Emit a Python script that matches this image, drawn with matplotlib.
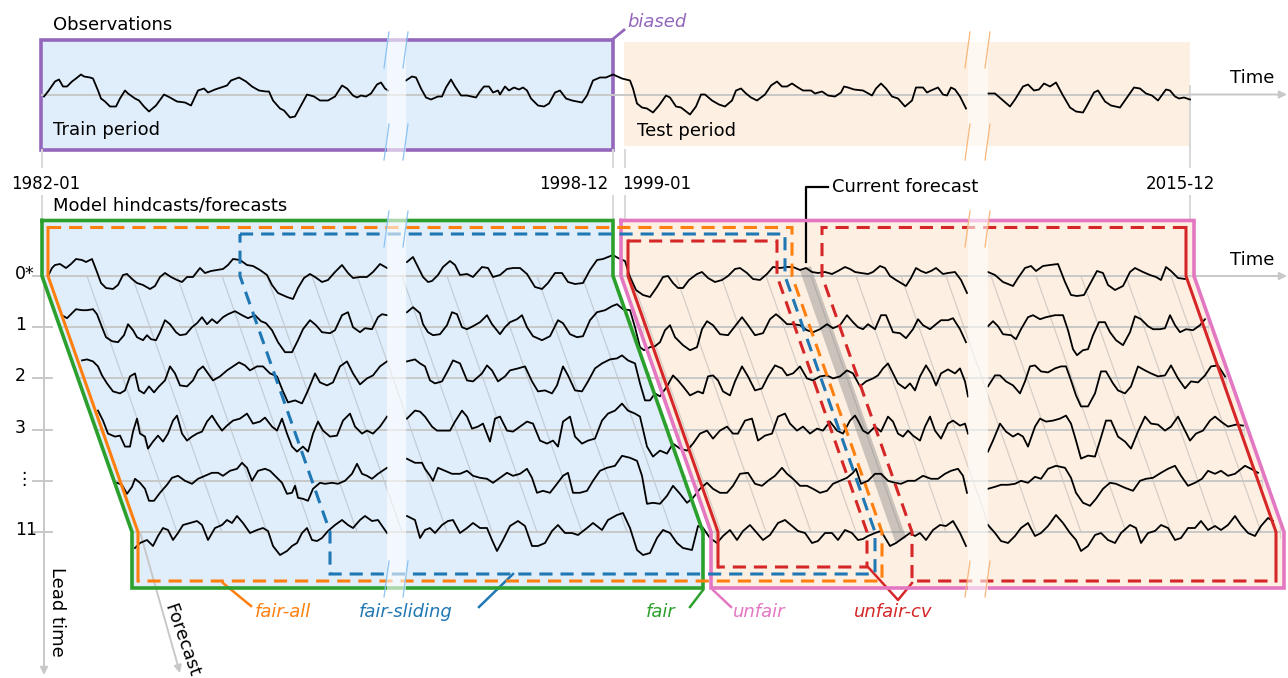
import numpy as np
import matplotlib
matplotlib.use("Agg")
import matplotlib.pyplot as plt
from matplotlib.patches import Polygon, Rectangle

plt.rcParams['font.family'] = ['DejaVu Sans']

BLUE, ORANGE, GREEN = "#1f77b4", "#ff7f0e", "#2ca02c"
RED, PURPLE, PINK = "#d62728", "#9467bd", "#e377c2"
TRAIN_FILL, TEST_FILL, GRID = "#e0eefc", "#fdf0e3", "#c8c8c8"

# time positions of the period limits and their labels
DATE_X = [42, 613, 625, 1190]
DATE_LABELS = ["1982-01", "1998-12", "1999-01", "2015-12"]
LEAD_LABELS = ["0*", "1", "2", "3", "\u22ee", "11"]
GAPS = [(387, 406), (968, 988)]

OBS_Y = 94.5
ROW0_Y, ROW_STEP = 276, 51.2
SHIFT = 90          # how far a forecast drifts in time over lead 0..11

# observations (time, anomaly)
OBS = [(44,-2),(48,3),(55,13),(59,15),(63,8),(67,8),(72,13),(76,16),(81,20),(84,18),(90,17),(93,16),
       (98,4),(101,-4),(105,-7),(110,-12),(116,-12),(120,-4),(125,4),(128,1),(135,-4),(139,-6),(144,-12),
       (149,-17),(156,-11),(164,0),(170,-3),(177,-7),(185,-8),(191,-11),(198,4),(204,6),(208,2),(215,5),
       (221,7),(227,9),(231,14),(239,17),(246,13),(252,8),(259,4),(266,3),(269,3),(273,-6),(280,-14),
       (284,-16),(290,-23),(295,-22),(301,-11),(307,0),(314,-2),(320,-6),(328,-6),(335,-2),(342,9),(347,6),
       (353,-1),(357,-3),(361,-1),(366,-2),(371,1),(377,10),(381,12),(385,6),(388,4),
       (406,14),(412,18),(416,17),(421,6),(426,-3),(431,-5),(438,-2),(442,-2),(446,7),(451,15),(455,8),
       (461,-1),(467,-1),(476,-3),(480,3),(484,8),(489,8),(493,2),(498,4),(500,0),(505,8),(509,4),(514,7),
       (519,5),(523,7),(527,4),(531,-4),(538,-11),(544,-12),(549,-9),(555,2),(560,4),(566,-4),(572,-6),
       (582,-8),(587,-1),(593,14),(600,17),(606,17),(613,20),(622,16),(630,14),(633,6),(637,-9),(642,-13),
       (647,-14),(653,-18),(659,-11),(666,-1),(670,-3),(676,-12),(681,-13),(690,-20),(696,-12),(701,0),
       (705,0),(712,-6),(719,-10),(725,-12),(732,-6),(736,4),(741,6),(746,1),(751,-3),(757,-6),(765,0),
       (771,9),(777,13),(782,8),(787,8),(792,11),(798,7),(803,4),(811,4),(815,1),(822,3),(828,-1),(835,-2),
       (841,2),(844,8),(848,7),(854,5),(863,4),(872,-1),(876,6),(881,11),(886,6),(892,-2),(898,-4),
       (905,-12),(912,-6),(916,7),(923,7),(927,2),(931,4),(938,7),(943,0),(947,-1),(951,7),(955,5),(960,-2),
       (966,-14),(988,1),(995,1),(1002,-5),(1010,-12),(1015,-5),(1023,8),(1028,10),(1034,4),(1039,5),
       (1044,11),(1050,8),(1056,12),(1063,-1),(1070,-13),(1076,-17),(1083,-18),(1087,-11),(1094,2),(1098,4),
       (1105,-7),(1111,-11),(1120,-13),(1127,-3),(1134,7),(1140,6),(1146,1),(1152,-1),(1158,-6),(1166,5),
       (1170,4),(1175,-2),(1179,-4),(1184,-3),(1190,-5)]

# model runs, one list per lead row (time, anomaly)
LEAD0 = [(48,0),(52,8),(55,11),(60,12),(66,8),(71,12),(76,17),(82,16),(86,14),(92,17),(97,4),(101,-7),
         (106,-12),(113,-13),(118,-9),(123,1),(127,2),(132,-3),(137,-7),(143,-9),(150,-13),(155,-10),(160,-1),
         (165,3),(171,-1),(177,-4),(182,-6),(187,-1),(193,-1),(200,8),(205,3),(211,5),(217,6),(223,7),(228,11),
         (233,17),(240,16),(247,11),(253,10),(260,6),(267,1),(272,-9),(278,-17),(287,-21),(293,-23),(298,-12),
         (304,-2),(310,2),(315,-1),(322,-6),(328,-4),(335,4),(342,11),(348,3),(353,-2),(360,-1),(367,-1),
         (373,4),(380,12),(387,8),(407,14),(413,19),(417,11),(423,-1),(428,-6),(432,-5),(438,1),(443,9),
         (450,15),(455,11),(460,1),(467,2),(473,-1),(482,9),(488,8),(493,-1),(500,1),(507,7),(513,8),(520,8),
         (527,2),(535,-11),(542,-13),(548,-7),(555,3),(562,3),(568,-6),(575,-8),(583,-7),(590,6),(597,16),
         (603,17),(608,19),(613,21),(618,18),(625,15),(630,-1),(636,-14),(643,-19),(650,-21),(657,-11),
         (663,-1),(668,0),(673,-7),(678,-12),(683,-12),(689,-4),(697,2),(702,4),(708,-2),(715,-6),(722,-4),
         (728,0),(735,7),(740,8),(747,3),(753,-3),(760,-4),(767,2),(773,9),(780,8),(787,9),(793,9),(800,6),
         (806,8),(812,4),(818,3),(825,4),(832,2),(838,5),(845,9),(850,7),(855,4),(861,3),(868,2),(873,4),
         (880,10),(885,8),(890,0),(896,-4),(901,-7),(906,-10),(911,-2),(916,8),(921,5),(926,3),(931,5),
         (936,8),(943,2),(948,3),(955,4),(961,-4),(967,-17),(988,4),(995,1),(1003,-6),(1013,-10),(1018,-2),
         (1025,8),(1031,10),(1036,5),(1043,10),(1050,11),(1058,12),(1065,-6),(1071,-19),(1077,-20),(1084,-19),
         (1091,-6),(1097,5),(1103,3),(1108,-9),(1115,-14),(1123,-10),(1130,4),(1135,8),(1143,4),(1150,1),
         (1156,-1),(1161,-4),(1166,9),(1171,5),(1178,-2),(1185,-3)]
LEAD1 = [(62,12),(67,9),(72,14),(76,18),(82,17),(87,17),(93,18),(97,13),(102,0),(106,-10),(112,-14),
         (118,-15),(124,-8),(128,3),(133,-3),(137,-10),(143,-13),(147,-8),(151,-12),(156,-13),(160,-5),(165,7),
         (170,3),(176,-5),(180,-8),(186,-7),(192,0),(197,4),(202,10),(207,3),(212,8),(217,4),(223,10),(228,13),
         (235,16),(242,12),(248,9),(255,12),(261,6),(266,4),(272,-3),(278,-15),(285,-25),(292,-25),(298,-13),
         (303,-2),(310,7),(316,2),(322,-5),(330,-6),(335,-3),(342,12),(348,15),(353,0),(360,-5),(365,-1),
         (372,-2),(378,10),(382,13),(387,12),(407,15),(413,20),(420,14),(423,3),(428,-5),(433,-8),(440,-7),
         (447,2),(452,15),(457,13),(462,0),(467,-2),(473,1),(480,5),(487,12),(492,3),(500,-7),(505,0),(510,5),
         (517,8),(522,12),(527,0),(533,-9),(542,-13),(550,-9),(558,7),(563,4),(570,-7),(577,-10),(583,-9),
         (590,7),(597,15),(605,17),(612,21),(617,23),(623,18),(630,17),(635,0),(640,-20),(644,-23),(650,-20),
         (655,-19),(660,-15),(665,-3),(670,2),(675,-10),(683,-18),(690,-23),(697,-20),(702,-2),(707,6),(713,2),
         (720,-7),(728,-8),(735,1),(742,10),(748,2),(755,-8),(763,-6),(770,8),(776,13),(782,8),(787,3),(793,3),
         (800,2),(807,-3),(813,-5),(820,-2),(827,3),(833,-1),(840,2),(847,12),(853,5),(858,0),(863,-2),(868,3),
         (875,-2),(881,12),(886,12),(893,-5),(900,-6),(906,-11),(913,-2),(918,8),(923,2),(930,-2),(936,3),
         (941,7),(948,7),(953,9),(960,-2),(966,-15),(988,1),(993,6),(998,1),(1003,-7),(1011,-8),(1016,-12),
         (1021,-2),(1028,10),(1033,12),(1040,8),(1046,10),(1055,12),(1063,12),(1068,-3),(1073,-22),(1077,-28),
         (1083,-23),(1088,-22),(1093,-8),(1099,5),(1105,5),(1110,-5),(1116,-13),(1123,-18),(1130,-5),(1135,11),
         (1141,8),(1148,1),(1153,-2),(1160,-2),(1165,-1),(1170,12),(1175,2),(1180,-5),(1186,-2),(1193,-3),
         (1200,2),(1205,8)]
LEAD2 = [(82,18),(87,19),(93,17),(98,12),(102,3),(107,-5),(113,-13),(120,-15),(125,-12),(130,2),(135,5),
         (139,-12),(144,-15),(149,-8),(154,-14),(159,-8),(165,-2),(170,12),(175,5),(180,-7),(187,-8),(193,-2),
         (198,8),(203,12),(208,5),(213,-2),(220,2),(227,8),(233,12),(239,16),(245,13),(250,8),(257,12),(263,12),
         (270,5),(277,2),(283,-13),(288,-24),(295,-22),(302,-25),(308,-12),(315,5),(320,-4),(327,-7),(333,-4),
         (340,12),(347,17),(353,5),(360,-6),(367,0),(373,3),(380,12),(387,17),(407,17),(415,19),(420,15),
         (425,12),(430,-2),(435,-5),(442,-3),(448,8),(453,18),(460,15),(467,-2),(473,-3),(482,5),(487,13),
         (492,8),(498,-3),(505,2),(510,8),(518,10),(525,12),(532,-3),(538,-13),(545,-12),(552,-15),(557,-7),
         (563,12),(568,3),(575,-12),(582,-13),(588,-3),(595,10),(602,15),(610,19),(617,20),(622,23),(628,18),
         (635,15),(640,-5),(645,-22),(650,-22),(655,-15),(660,-18),(667,-8),(673,3),(678,-2),(683,-8),
         (690,-17),(698,-13),(703,-15),(708,2),(713,3),(718,-2),(723,-13),(730,-17),(735,-3),(742,12),(748,2),
         (755,-12),(762,-10),(768,2),(775,13),(782,10),(787,3),(793,5),(800,12),(807,0),(813,-2),(820,2),
         (827,3),(833,0),(840,2),(847,8),(853,5),(860,-8),(866,-3),(873,0),(878,3),(883,10),(888,15),(893,5),
         (898,-5),(905,-10),(910,-5),(915,-12),(920,2),(926,13),(931,5),(936,-7),(941,5),(948,9),(955,5),
         (960,10),(965,-3),(968,-18),(988,-8),(995,3),(1000,3),(1006,-3),(1013,-7),(1020,-15),(1025,-3),
         (1030,12),(1035,13),(1041,7),(1048,6),(1055,10),(1061,12),(1066,12),(1071,-2),(1076,-17),(1081,-28),
         (1088,-28),(1095,-15),(1101,7),(1106,7),(1113,-5),(1118,-12),(1125,-15),(1131,-8),(1138,12),(1145,8),
         (1151,5),(1158,2),(1165,3),(1171,13),(1178,0),(1185,-10),(1191,-3),(1198,-4),(1205,3),(1211,12),
         (1218,13),(1225,2)]
LEAD3 = [(98,19),(103,9),(108,-4),(115,-7),(120,-6),(125,-17),(130,-17),(133,-2),(137,11),(140,-4),(145,-7),
         (148,-19),(153,-12),(158,-6),(163,-12),(168,-4),(173,9),(177,14),(182,-4),(187,-11),(192,-7),(197,-4),
         (202,-2),(207,8),(212,14),(217,6),(222,-1),(227,4),(233,9),(240,11),(247,16),(253,6),(260,8),(265,12),
         (272,3),(277,-1),(282,11),(287,-4),(292,-17),(297,-22),(303,-17),(308,-22),(313,-4),(318,8),(323,-1),
         (330,-7),(337,-6),(343,9),(350,16),(355,3),(362,-4),(367,-1),(373,-4),(380,3),(387,13),(407,11),
         (415,19),(420,18),(425,13),(432,3),(437,-1),(443,-1),(450,-1),(455,8),(462,19),(467,13),(472,1),
         (478,3),(483,6),(490,-12),(495,11),(500,13),(507,-1),(513,-2),(520,3),(527,8),(533,6),(540,-11),
         (547,-14),(553,-11),(558,-17),(563,8),(570,13),(575,-7),(582,-14),(588,-11),(595,-9),(602,9),(608,16),
         (615,19),(622,26),(628,19),(635,16),(640,13),(647,-17),(653,-27),(660,-21),(667,-24),(673,-14),
         (680,-19),(687,-21),(693,-14),(700,-4),(707,-1),(713,-9),(720,-1),(727,3),(733,-4),(738,-4),(745,9),
         (752,11),(758,-11),(765,-6),(772,-4),(778,13),(785,16),(790,6),(797,-1),(803,3),(810,-4),(817,1),
         (823,-1),(830,8),(837,-1),(843,-4),(850,9),(855,14),(858,9),(863,-1),(868,-4),(875,3),(881,-2),
         (888,13),(893,8),(898,-4),(903,-7),(908,-1),(913,-6),(920,-11),(925,3),(930,13),(935,-1),(941,-9),
         (948,6),(953,9),(960,4),(965,6),(968,-4),(988,-22),(993,-11),(1000,6),(1006,-2),(1013,-7),(1018,-4),
         (1023,-7),(1028,-17),(1035,3),(1040,11),(1046,8),(1053,9),(1060,11),(1066,14),(1071,6),(1076,-11),
         (1081,-29),(1088,-26),(1095,-27),(1100,-11),(1106,9),(1111,9),(1118,-7),(1125,-12),(1131,-19),
         (1138,-2),(1145,13),(1151,6),(1158,5),(1165,-1),(1171,3),(1178,13),(1185,-1),(1190,-11),(1196,-4),
         (1203,-1),(1210,9),(1215,13),(1221,8),(1228,3),(1236,5),(1243,4)]
LEAD4 = [(117,-2),(122,-4),(127,-13),(132,-6),(135,2),(140,-2),(145,-8),(149,-20),(154,-20),(160,-12),
         (167,-4),(172,3),(178,5),(185,0),(192,-3),(198,2),(205,5),(212,8),(218,8),(223,5),(230,10),(237,12),
         (242,18),(247,13),(252,0),(258,10),(265,12),(270,10),(275,5),(282,-2),(287,-13),(292,-12),(295,-5),
         (298,-17),(303,-18),(308,-20),(313,-8),(320,-2),(325,-3),(332,-2),(338,-3),(345,0),(352,7),(357,17),
         (362,7),(367,5),(372,2),(378,7),(387,13),(407,22),(415,18),(422,18),(425,12),(430,5),(433,0),(438,13),
         (445,10),(452,7),(460,7),(467,10),(473,5),(480,3),(487,2),(493,-2),(500,3),(507,8),(513,5),(520,7),
         (527,12),(532,3),(537,-12),(543,-10),(550,-12),(557,-3),(563,5),(568,8),(573,-12),(580,-12),(587,-10),
         (593,0),(600,10),(607,13),(615,15),(622,25),(630,23),(637,20),(642,5),(647,-23),(653,-22),(660,-23),
         (667,-15),(673,-5),(680,-13),(687,-22),(693,-17),(700,-8),(707,-2),(713,-8),(720,-12),(727,-12),
         (733,-5),(740,7),(748,8),(755,-3),(762,-5),(768,0),(775,5),(782,13),(787,7),(793,2),(800,-5),(807,-5),
         (813,-8),(820,-12),(827,-10),(833,-3),(840,0),(847,3),(853,8),(856,12),(861,-3),(868,0),(875,7),
         (881,7),(888,0),(895,-2),(901,-3),(908,0),(915,0),(923,5),(931,2),(938,2),(945,7),(951,10),(958,12),
         (963,5),(967,-12),(988,-8),(995,-6),(1001,-4),(1008,-4),(1015,-3),(1021,0),(1028,-2),(1035,4),
         (1041,2),(1048,12),(1056,15),(1065,13),(1071,3),(1076,-12),(1083,-22),(1090,-25),(1096,-18),(1103,-8),
         (1110,-2),(1116,-3),(1125,-7),(1133,-10),(1140,0),(1146,2),(1153,3),(1161,8),(1168,12),(1175,15),
         (1181,5),(1188,-5),(1195,-2),(1202,2),(1208,10),(1215,7),(1221,10),(1228,5),(1235,7),(1245,15),
         (1251,12),(1258,8)]
LEAD11 = [(135,-16),(140,-11),(147,-8),(153,-14),(158,-4),(163,4),(168,2),(173,-8),(178,-1),(183,7),(190,9),
          (197,11),(202,7),(208,-8),(215,4),(222,7),(227,12),(232,9),(237,16),(243,9),(250,-1),(257,2),(263,4),
          (268,1),(273,-14),(280,-23),(287,-19),(292,-14),(297,-11),(302,-1),(307,4),(312,-8),(317,-9),(322,-6),
          (328,1),(335,7),(342,12),(348,7),(353,4),(360,12),(365,16),(372,11),(378,12),(387,-1),(407,16),
          (415,12),(420,-6),(425,2),(430,4),(435,-1),(442,7),(448,11),(453,12),(460,-1),(467,4),(473,9),(480,4),
          (487,4),(492,-8),(497,-19),(503,-8),(510,6),(518,11),(525,6),(532,-14),(538,-14),(545,-11),(552,1),
          (558,7),(565,-1),(572,-1),(578,-3),(587,4),(593,9),(602,2),(608,12),(617,17),(623,19),(630,4),
          (637,-18),(643,-23),(650,-21),(657,-6),(663,2),(670,-1),(677,-11),(683,-16),(692,-18),(698,6),(703,4),
          (710,-6),(717,-11),(723,-4),(730,2),(737,-8),(743,1),(750,7),(757,-1),(763,-8),(770,-3),(778,9),
          (785,12),(792,6),(798,1),(805,-1),(812,-11),(818,-9),(825,-1),(832,-1),(838,-8),(845,2),(852,-1),
          (858,-8),(863,-7),(868,-4),(875,-1),(881,1),(890,-14),(896,-11),(903,-6),(910,-1),(915,-4),(920,-1),
          (926,-8),(933,2),(940,7),(946,6),(953,11),(960,-1),(966,-14),(988,7),(995,-1),(1001,-9),(1008,-11),
          (1015,-4),(1021,4),(1028,9),(1035,-4),(1041,-1),(1048,6),(1056,17),(1063,9),(1070,-1),(1076,-8),
          (1081,-19),(1088,-14),(1095,-3),(1101,-1),(1108,-8),(1115,-11),(1121,-1),(1130,7),(1136,4),(1141,-11),
          (1148,-1),(1155,1),(1161,7),(1168,4),(1175,-8),(1181,-6),(1188,4),(1195,4),(1201,11),(1208,2),
          (1215,6),(1221,2),(1228,7),(1235,16),(1241,7),(1248,-1),(1255,-4),(1261,6),(1268,14),(1273,11)]
LEAD_SERIES = [LEAD0, LEAD1, LEAD2, LEAD3, LEAD4, LEAD11]

ROW_Y = [ROW0_Y + k * ROW_STEP for k in range(len(LEAD_LABELS))]
Y0, Y11 = ROW_Y[0], ROW_Y[-1]


def slant(x0, y):
    return x0 + SHIFT * (y - Y0) / (Y11 - Y0)


def edge(x0, top, bottom):
    return [(x0, top), (x0, Y0), (x0 + SHIFT, Y11), (x0 + SHIFT, bottom)]


def split_gaps(pts):
    xs, ys = [], []
    for i, (x, v) in enumerate(pts):
        if i:
            px = pts[i - 1][0]
            if any(px <= g0 + 3 and x >= g1 - 3 for g0, g1 in GAPS):
                xs.append(np.nan)
                ys.append(np.nan)
        xs.append(x)
        ys.append(v)
    return np.array(xs, float), np.array(ys, float)


def path(ax, pts, color, lw, dashed=False, z=4):
    x, y = zip(*pts)
    ls = (0, (4.3, 2.6)) if dashed else '-'
    ax.plot(x, y, color=color, lw=lw, ls=ls, zorder=z,
            solid_joinstyle='miter', dash_joinstyle='miter', dash_capstyle='butt')


def arrow(ax, start, end):
    ax.annotate("", xy=end, xytext=start,
                arrowprops=dict(arrowstyle="-|>", color=GRID, lw=1.4, mutation_scale=11,
                                shrinkA=0, shrinkB=0))


fig = plt.figure(figsize=(12.88, 6.78), dpi=100)
ax = fig.add_axes([0, 0, 1, 1])
ax.set_xlim(0, 1288)
ax.set_ylim(678, 0)
ax.axis('off')

FS = 13

# ---------------- observations panel ----------------
ax.add_patch(Rectangle((41, 39.5), 572, 110, fc=TRAIN_FILL, ec=PURPLE, lw=2.6, zorder=1))
ax.add_patch(Rectangle((624, 42), 566, 104, fc=TEST_FILL, ec='none', zorder=1))
ax.plot([42, 1190], [OBS_Y, OBS_Y], color=GRID, lw=1.4, zorder=2)
arrow(ax, (1188, OBS_Y), (1287, OBS_Y))
ox, ov = split_gaps(OBS)
ax.plot(ox, OBS_Y - ov, color='k', lw=1.3, zorder=3)
ax.plot([613, 624], [39, 30], color=PURPLE, lw=2, zorder=4)
ax.text(627, 22, "biased", color=PURPLE, fontsize=FS, style='italic', va='center')
ax.text(53, 25, "Observations", fontsize=FS, va='center')
ax.text(53, 130, "Train period", fontsize=FS, va='center')
ax.text(637, 131, "Test period", fontsize=FS, va='center')
ax.text(1230, 78, "Time", fontsize=FS, va='center')

# date ticks
for x in DATE_X:
    ax.plot([x, x], [150 if x != 1190 else 86, 167], color="#d8d8d8", lw=1.4, zorder=2)
    ax.plot([x, x], [196, 276 if x == 1190 else 221], color="#d8d8d8", lw=1.4, zorder=0.5)
ax.text(46, 184, DATE_LABELS[0], fontsize=12, ha='center', va='center')
ax.text(608, 184, DATE_LABELS[1], fontsize=12, ha='right', va='center')
ax.text(622, 184, DATE_LABELS[2], fontsize=12, ha='left', va='center')
ax.text(1180, 184, DATE_LABELS[3], fontsize=12, ha='center', va='center')

# ---------------- hindcast / forecast panel ----------------
ax.text(53, 205, "Model hindcasts/forecasts", fontsize=FS, va='center')

train_poly = edge(42, 220.5, 588) + edge(613, 220.5, 588)[::-1]
test_poly = edge(621, 220.5, 588) + edge(1194, 220.5, 588)[::-1]
ax.add_patch(Polygon(train_poly, closed=True, fc=TRAIN_FILL, ec='none', zorder=1))
ax.add_patch(Polygon(test_poly, closed=True, fc=TEST_FILL, ec='none', zorder=1))

# forecast trajectories (diagonals)
for x0 in list(range(87, 600, 45)) + list(range(631, 1190, 45)):
    ax.plot([x0, x0 + SHIFT], [Y0, Y11], color="#9a9a9a", alpha=0.4, lw=0.9, zorder=1.5)

# lead rows
for k, y in enumerate(ROW_Y):
    ax.plot([slant(42, y), slant(1190, y)], [y, y], color=GRID, lw=1.4, zorder=2)
    ax.plot([33, 52], [y, y], color=GRID, lw=1.4, zorder=2)
    ax.text(15, y - 2, LEAD_LABELS[k], fontsize=12.5, va='center', ha='left')
    for x in DATE_X[1:]:
        if k > 0:
            ax.plot([slant(x, y), slant(x, y)], [y - 6, y + 6], color=GRID, lw=1, alpha=0.6, zorder=2)
arrow(ax, (1192, Y0), (1287, Y0))
ax.text(1230, 260, "Time", fontsize=FS, va='center')

# lead time axis and forecast axis
arrow(ax, (44, Y0), (44, 675))
ax.text(57, 612, "Lead time", fontsize=FS, rotation=-90, ha='center', va='center')
arrow(ax, (slant(50, Y11), Y11), (180, 673))
ang = -np.degrees(np.arctan2(Y11 - Y0, SHIFT))
ax.text(182, 640, "Forecast", fontsize=FS, rotation=ang, rotation_mode='anchor', ha='center', va='center')

# current forecast
ax.plot([slant(808, 268), slant(808, 540)], [268, 540], color="#7f7f7f", alpha=0.4, lw=8.5,
        solid_capstyle='butt', zorder=2.5)
ax.plot([828, 806, 806], [187, 187, 262], color='k', lw=1.6, zorder=4)
ax.text(832, 187, "Current forecast", fontsize=FS, va='center')

# model series
for y, pts in zip(ROW_Y, LEAD_SERIES):
    sx, sv = split_gaps(pts)
    ax.plot(sx, y - sv, color='k', lw=1.3, zorder=3)

# evaluation set outlines
path(ax, train_poly + [train_poly[0]], GREEN, 2.6, z=4.2)
path(ax, test_poly + [test_poly[0]], PINK, 2.6, z=4.2)

path(ax, edge(48, 227.5, 581), ORANGE, 2.2, z=4.4)
path(ax, [(48, 227.5)] + edge(792, 227.5, 581) + [(slant(48, Y11), 581)], ORANGE, 2.2, dashed=True, z=4.4)

blue = [(240, 234)] + edge(785, 234, 574) + edge(240, 234, 574)[::-1]
path(ax, blue, BLUE, 2.2, dashed=True, z=4.3)

path(ax, edge(628, 241, 567), RED, 2.2, z=4.5)
path(ax, [(628, 241)] + edge(777, 241, 567) + [(slant(628, Y11), 567)], RED, 2.2, dashed=True, z=4.5)
path(ax, edge(1186, 227.5, 581), RED, 2.2, z=4.5)
path(ax, [(1186, 227.5)] + edge(822, 227.5, 581) + [(slant(1186, Y11), 581)], RED, 2.2, dashed=True, z=4.5)

# labels
LY = 612
ax.plot([223, 251], [583, 606], color=ORANGE, lw=1.8, zorder=4)
ax.text(255, LY, "fair-all", color=ORANGE, fontsize=FS, style='italic', va='center')
ax.plot([513, 479], [574, 607], color=BLUE, lw=1.8, zorder=4)
ax.text(359, LY, "fair-sliding", color=BLUE, fontsize=FS, style='italic', va='center')
ax.plot([703, 690], [590, 607], color=GREEN, lw=1.8, zorder=4)
ax.text(676, LY, "fair", color=GREEN, fontsize=FS, style='italic', va='center', ha='right')
ax.plot([713, 731], [590, 607], color=PINK, lw=1.8, zorder=4)
ax.text(733, LY, "unfair", color=PINK, fontsize=FS, style='italic', va='center')
ax.plot([868, 898, 912], [567, 600, 583], color=RED, lw=1.8, zorder=4)
ax.text(893, LY, "unfair-cv", color=RED, fontsize=FS, style='italic', va='center', ha='center')

# axis breaks
for (g0, g1), col in zip(GAPS, ["#8cc2f2", "#f9b67a"]):
    for top, bot in [(34, 160), (213, 597)]:
        ax.add_patch(Rectangle((g0, top), g1 - g0, bot - top, fc='white', ec='none', alpha=0.6, zorder=5))
        for x in (g0, g1):
            ax.plot([x + 2, x - 3], [top - 2, top + 34], color=col, lw=0.9, zorder=6)
            ax.plot([x + 2, x - 3], [bot - 36, bot], color=col, lw=0.9, zorder=6)

fig.savefig("out.png", dpi=100)
